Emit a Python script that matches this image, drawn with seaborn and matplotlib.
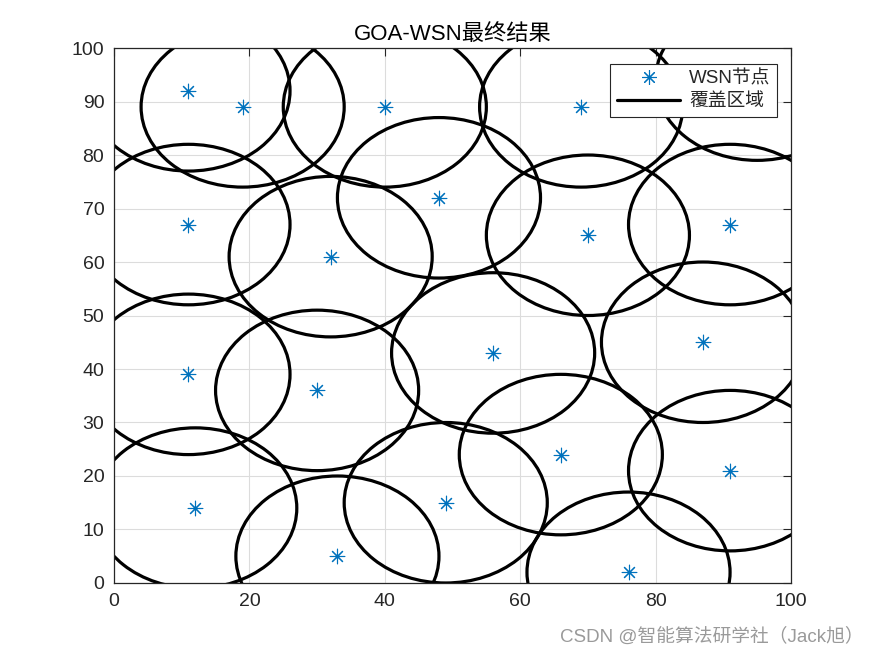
import numpy as np
import pandas as pd
import matplotlib
matplotlib.use("Agg")
import matplotlib.pyplot as plt
from matplotlib.patches import Circle
from matplotlib.lines import Line2D
import seaborn as sns

# node positions (last one sits under the legend)
node_x = [11, 19, 40, 69, 11, 48, 32, 70, 91, 11, 30, 56, 87, 12, 49, 66, 91, 33, 76, 95]
node_y = [92, 89, 89, 89, 67, 72, 61, 65, 67, 39, 36, 43, 45, 14, 15, 24, 21, 5, 2, 94]
visible = [True] * 19 + [False]
radius = 15

x_ticks = [0, 20, 40, 60, 80, 100]
y_ticks = [0, 10, 20, 30, 40, 50, 60, 70, 80, 90, 100]

nodes = pd.DataFrame({"x": node_x, "y": node_y, "vis": visible})

sns.set_style("white")
plt.rcParams["font.family"] = ["Liberation Sans", "Noto Sans CJK SC", "DejaVu Sans"]

blue = "#0072BD"
dark = "#262626"
asterisk = (8, 2, 0)

fig = plt.figure(figsize=(8.75, 6.56), dpi=100)
fig.patch.set_facecolor("white")
ax = fig.add_axes([0.1303, 0.1113, 0.7737, 0.8155])

# nodes
sns.scatterplot(data=nodes[nodes["vis"]], x="x", y="y", ax=ax, marker=asterisk,
                s=110, color=blue, edgecolor=blue, linewidth=0.8, zorder=3)

# coverage circles
for cx, cy in zip(node_x, node_y):
    ax.add_patch(Circle((cx, cy), radius, fill=False, ec="black", lw=2.3, zorder=2))

ax.set_xlim(0, 100)
ax.set_ylim(0, 100)
ax.set_xticks(x_ticks)
ax.set_yticks(y_ticks)
ax.set_xlabel("")
ax.set_ylabel("")
ax.grid(True, color="#dcdcdc", linewidth=0.8)
ax.set_axisbelow(True)
ax.tick_params(direction="in", length=6, width=0.8, colors=dark, labelsize=14,
               top=True, right=True, pad=7)
for s in ax.spines.values():
    s.set_color(dark)
    s.set_linewidth(0.9)

ax.set_title("GOA-WSN最终结果", fontsize=16, color="black", pad=6)

handles = [
    Line2D([], [], linestyle="none", marker=asterisk, markersize=10.5, color=blue,
           markeredgewidth=0.8),
    Line2D([], [], color="black", lw=2.3),
]
leg = ax.legend(handles, ["WSN节点", "覆盖区域"], loc="upper right",
                bbox_to_anchor=(0.979, 0.971), fontsize=13.5, frameon=True,
                fancybox=False, framealpha=1, edgecolor=dark, handlelength=3.4,
                borderpad=0.35, labelspacing=0.3, handletextpad=0.45, borderaxespad=0)
leg.get_frame().set_linewidth(0.8)
leg.set_zorder(5)

fig.text(0.987, 0.03, "CSDN @智能算法研学社（Jack旭）", ha="right", va="center",
         fontsize=13.5, color="#9a9a9a")

fig.savefig("out.png", dpi=100, facecolor="white")
